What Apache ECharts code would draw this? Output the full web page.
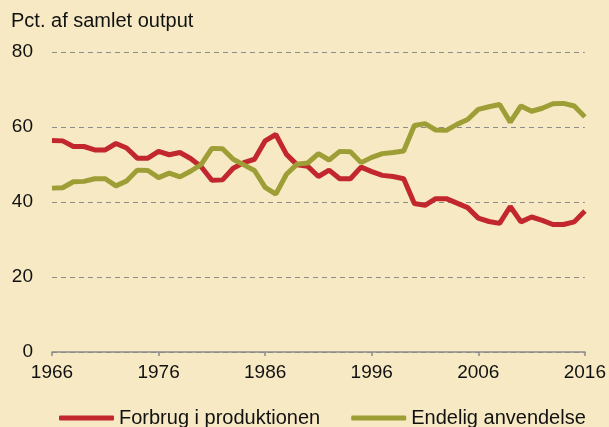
<!DOCTYPE html>
<html>
<head>
<meta charset="utf-8">
<script src="https://cdn.jsdelivr.net/npm/echarts@6/dist/echarts.min.js"></script>
<style>
  html, body { margin: 0; padding: 0; background: #f6e9c3; }
  #main { width: 609px; height: 427px; }
</style>
</head>
<body>
<div id="main"></div>
<script>
// år 1966-2016
var years = [];
for (var y = 1966; y <= 2016; y++) years.push(String(y));

// Forbrug i produktionen (pct. af samlet output)
var forbrug = [
    56.4, 56.3, 54.8, 54.8, 53.9, 53.9, 55.6, 54.4, 51.7, 51.7,
    53.5, 52.6, 53.2, 51.6, 49.4, 45.8, 45.9, 49.0, 50.5, 51.4,
    56.3, 58.0, 52.7, 49.9, 49.5, 46.8, 48.5, 46.2, 46.2, 49.3,
    48.1, 47.1, 46.8, 46.2, 39.6, 39.1, 40.9, 40.9, 39.7, 38.5,
    35.7, 34.8, 34.3, 38.8, 34.7, 36.0, 35.1, 34.0, 34.0, 34.7,
    37.6
];

// Endelig anvendelse
var endelig = [
    43.7, 43.8, 45.4, 45.5, 46.2, 46.2, 44.3, 45.6, 48.5, 48.4,
    46.5, 47.7, 46.7, 48.2, 50.0, 54.3, 54.2, 51.4, 49.9, 48.4,
    43.9, 42.1, 47.4, 50.1, 50.4, 52.9, 51.2, 53.5, 53.4, 50.5,
    51.9, 52.9, 53.2, 53.6, 60.4, 60.9, 59.2, 59.1, 60.7, 62.0,
    64.7, 65.4, 66.0, 61.3, 65.6, 64.2, 65.0, 66.2, 66.3, 65.6,
    62.7
];

var redColor = '#c1272d';
var greenColor = '#9d9e36';
var fontName = 'Liberation Sans, Arial, sans-serif';

var myChart = echarts.init(document.getElementById('main'));
var option = {
    backgroundColor: '#f6e9c3',
    animation: false,
    title: {
        text: 'Pct. af samlet output',
        left: 6,
        top: 6,
        textStyle: {
            fontFamily: fontName,
            fontSize: 20,
            fontWeight: 'normal',
            color: '#111'
        }
    },
    grid: {
        left: 52,
        right: 24,
        top: 52,
        bottom: 75
    },
    legend: {
        left: 54,
        top: 403,
        itemWidth: 55,
        itemHeight: 5,
        itemGap: 31,
        icon: 'roundRect',
        textStyle: {
            fontFamily: fontName,
            fontSize: 20,
            color: '#111'
        },
        data: ['Forbrug i produktionen', 'Endelig anvendelse']
    },
    xAxis: {
        type: 'category',
        boundaryGap: false,
        data: years,
        axisLine: { lineStyle: { color: '#8a8a8a', width: 1.5 } },
        axisTick: { interval: 9, length: 4, lineStyle: { color: '#8a8a8a', width: 1.5 } },
        axisLabel: {
            interval: 9,
            margin: 11,
            fontFamily: fontName,
            fontSize: 19,
            color: '#111'
        },
        splitLine: { show: false }
    },
    yAxis: {
        type: 'value',
        min: 0,
        max: 80,
        interval: 20,
        axisLine: { show: false },
        axisTick: { show: false },
        axisLabel: {
            margin: 19,
            fontFamily: fontName,
            fontSize: 19,
            color: '#111'
        },
        splitLine: {
            lineStyle: { color: '#8c8c8c', type: [5, 4], width: 1 }
        }
    },
    series: [
        {
            name: 'Forbrug i produktionen',
            type: 'line',
            data: forbrug,
            showSymbol: false,
            symbol: 'none',
            lineStyle: { color: redColor, width: 5 },
            itemStyle: { color: redColor }
        },
        {
            name: 'Endelig anvendelse',
            type: 'line',
            data: endelig,
            showSymbol: false,
            symbol: 'none',
            lineStyle: { color: greenColor, width: 5 },
            itemStyle: { color: greenColor }
        }
    ]
};
myChart.setOption(option);
</script>
</body>
</html>
